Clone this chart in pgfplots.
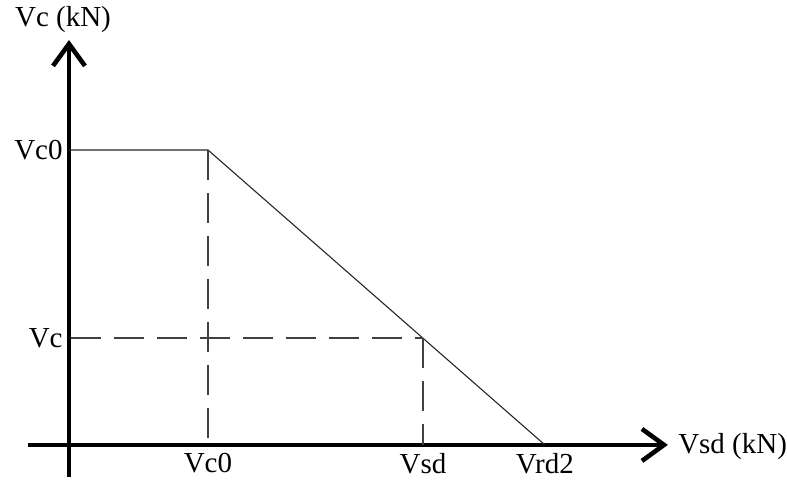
\documentclass[border=0pt]{standalone}
\usepackage{fontspec}
\setmainfont{Liberation Serif}
\usepackage{pgfplots}
\pgfplotsset{compat=1.18}
\usetikzlibrary{arrows.meta}

% Key values of the shear diagram (drawing units)
\def\VcZeroX{139}   % Vc0 on the Vsd axis
\def\VsdX{354}      % Vsd
\def\VrdX{476}      % Vrd2
\def\VcZeroY{295}   % Vc0 on the Vc axis
\def\VcY{106.8}     % Vc at Vsd

\begin{document}
\begin{tikzpicture}
\begin{axis}[
  x=0.5pt, y=0.5pt,
  xmin=-41, xmax=599, ymin=-32, ymax=405,
  axis lines=middle,
  clip=false,
  axis line style={line width=2.3pt, black},
  every inner x axis line/.append style={-{Straight Barb[length=11pt,width=16pt,line width=2.3pt]}},
  every inner y axis line/.append style={-{Straight Barb[length=11pt,width=16pt,line width=2.3pt]}},
  major tick length=0pt,
  xtick={\VcZeroX,\VsdX,\VrdX},
  xticklabels={Vc0,Vsd,Vrd2},
  ytick={\VcY,\VcZeroY},
  yticklabels={Vc,Vc0},
  tick label style={font=\fontsize{14.5}{17}\selectfont},
  xticklabel style={anchor=north, inner sep=4pt},
  yticklabel style={anchor=east, inner sep=3pt},
]
  % resistance curve
  \addplot[line width=0.55pt, black!85] coordinates {(0,\VcZeroY) (\VcZeroX,\VcZeroY) (\VrdX,0)};
  % construction lines
  \addplot[line width=0.8pt, black!75, dash pattern=on 15pt off 6.5pt] coordinates {(\VcZeroX,\VcZeroY) (\VcZeroX,0)};
  \addplot[line width=0.8pt, black!75, dash pattern=on 15pt off 6.5pt] coordinates {(2,\VcY) (\VsdX,\VcY)};
  \addplot[line width=0.8pt, black!75, dash pattern=on 15pt off 6.5pt] coordinates {(\VsdX,\VcY) (\VsdX,0)};
  % axis titles
  \node[font=\fontsize{14.5}{17}\selectfont, anchor=center] at (axis cs:-6,425) {Vc (kN)};
  \node[font=\fontsize{14.5}{17}\selectfont, anchor=west, inner sep=0pt] at (axis cs:609,-2) {Vsd (kN)};
  % page extent
  \path (axis cs:-69,-33) rectangle (axis cs:718,445);
\end{axis}
\end{tikzpicture}
\end{document}
